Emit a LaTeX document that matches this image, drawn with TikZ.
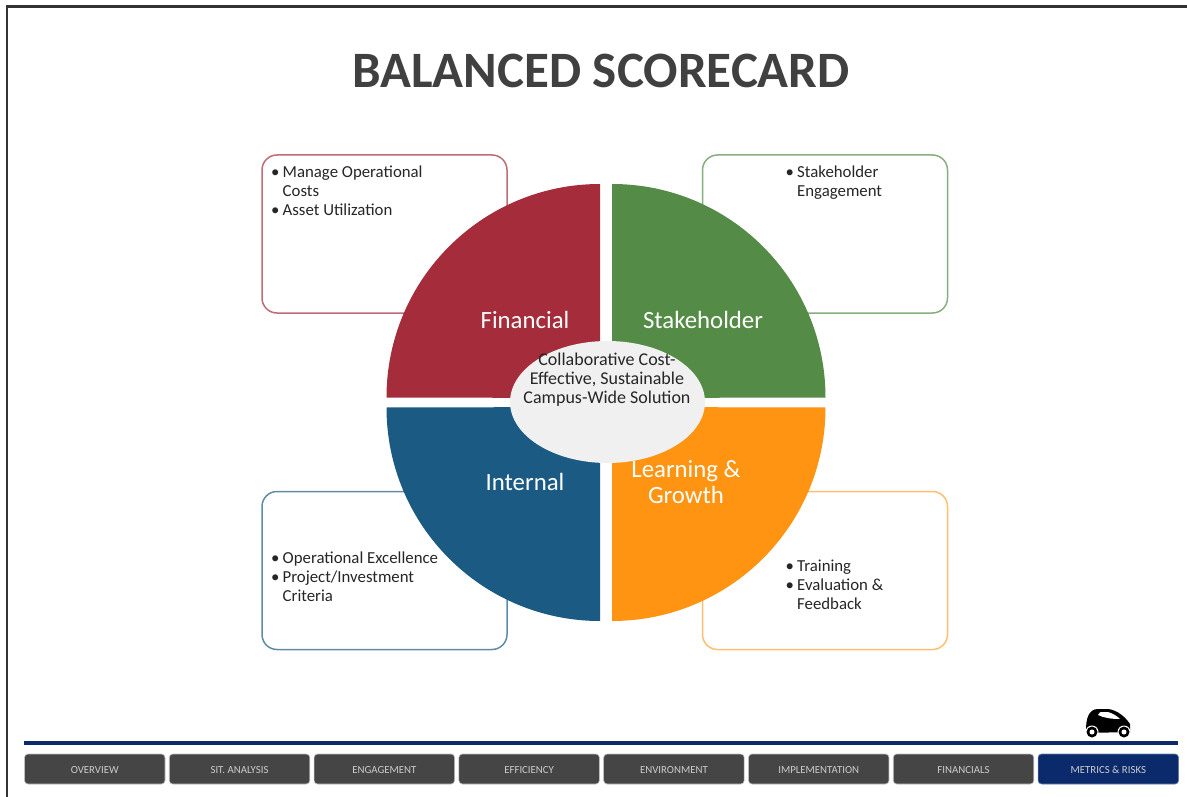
\documentclass[tikz,border=0pt]{standalone}
\usepackage{fontspec}
\setmainfont{Carlito}
\usepackage{xcolor}
\usetikzlibrary{matrix,positioning}
\definecolor{finred}{HTML}{A52C3A}
\definecolor{stagreen}{HTML}{548B46}
\definecolor{intblue}{HTML}{1B5A82}
\definecolor{lrnorange}{HTML}{FF9412}
\definecolor{navgrey}{HTML}{454545}
\definecolor{navblue}{HTML}{0A2A6B}
\newcommand{\itm}[1]{\makebox[11.5pt][l]{\textbullet}#1}
\newcommand{\cnt}{\hspace*{11.5pt}}
\newcommand{\ampchar}{\char38\relax}
\begin{document}
\begin{tikzpicture}[
x=1pt,y=-1pt,
card/.style={
  draw,
  line width=1.5pt,
  fill=white,
  rounded corners=15pt
  },
notes/.style={
  anchor=north west,
  align=left,
  inner sep=0pt,
  font=\fontsize{16.8}{18.7}\selectfont,
  text=black!85
  },
quadname/.style={
  text=white,
  align=center,
  inner sep=0pt,
  font=\fontsize{24.8}{26}\selectfont
  },
nav/.style={
  matrix of nodes,
  ampersand replacement=\&,
  nodes={
    draw=black!25,
    line width=0.6pt,
    fill=navgrey,
    text=white!80!black,
    rounded corners=3.5pt,
    minimum width=140.5pt,
    minimum height=30pt,
    inner sep=0pt,
    text height=9pt,
    text depth=0pt,
    font=\fontsize{10.8}{12}\selectfont
    },
  column sep=3.7pt,
  inner sep=0pt
  },
navon/.style={
  fill=navblue,
  draw=navblue!60
  }
]
\useasboundingbox (0,0) rectangle (1187,797);
% frame
\draw[line width=2.4pt,black!80] (7,797) -- (7,6.5) -- (1187,6.5);
\node[inner sep=0pt,text=black!75,font=\fontsize{51}{58}\bfseries\selectfont] (title) at (601,70.5) {BALANCED SCORECARD};
% note cards
\node[card,draw=finred!70,minimum width=245pt,minimum height=158pt] (fincard) at (384.5,234) {};
\node[card,draw=stagreen!70,minimum width=245pt,minimum height=158pt] (stacard) at (825,234) {};
\node[card,draw=intblue!70,minimum width=245pt,minimum height=158pt] (intcard) at (384.5,570.5) {};
\node[card,draw=lrnorange!60,minimum width=245pt,minimum height=158pt] (lrncard) at (825,570.5) {};
\node[notes] (finnotes) at (271,166) {\itm{Manage Operational}\\\cnt Costs\\\itm{Asset Utilization}};
\node[notes] (stanotes) at (785.5,166) {\itm{Stakeholder}\\\cnt Engagement};
\node[notes] (intnotes) at (271,552) {\itm{Operational Excellence}\\\itm{Project/Investment}\\\cnt Criteria};
\node[notes] (lrnnotes) at (785.5,560) {\itm{Training}\\\itm{Evaluation \&}\\\cnt Feedback};
% quarters
\fill[finred] (600,398) -- (600,184) arc[start angle=-90,end angle=-180,radius=213.5] -- cycle;
\fill[stagreen] (612,398) -- (612,184) arc[start angle=-90,end angle=0,radius=213.5] -- cycle;
\fill[intblue] (600,407) -- (600,621) arc[start angle=90,end angle=180,radius=213.5] -- cycle;
\fill[lrnorange] (612,407) -- (612,621) arc[start angle=90,end angle=0,radius=213.5] -- cycle;
\node[quadname] (financial) at (525,320) {Financial};
\node[quadname] (stakeholder) at (703,320) {Stakeholder};
\node[quadname] (internal) at (525,482) {Internal};
% hub
\fill[black!6] (607.5,402) ellipse[x radius=97.5,y radius=61];
\node[quadname] (learning) at (686,482) {Learning \&\\Growth};
\node[inner sep=0pt,align=center,text=black!85,font=\fontsize{18}{19}\selectfont] (hub) at (607,379.5) {Collaborative Cost-\\Effective, Sustainable\\Campus-Wide Solution};
% navigation
\draw[navblue,line width=3.5pt] (24,743) -- (1178,743);
\matrix[nav,anchor=west] (mat) at (24,769)
{
OVERVIEW \& SIT. ANALYSIS \& ENGAGEMENT \& EFFICIENCY \& ENVIRONMENT \& IMPLEMENTATION \& FINANCIALS \& |[navon]| METRICS \ampchar{} RISKS \\
};
% car
\fill[black] (1086,730) .. controls (1086,720) and (1088,709) .. (1098,709) -- (1108,709) .. controls (1118,710) and (1126,718) .. (1130,724) -- (1130,732) -- (1087,733) -- cycle;
\fill[white] (1098,715) .. controls (1099,712) and (1100,712) .. (1104,712) -- (1108,712) .. controls (1112,713) and (1117,716) .. (1120,719) .. controls (1112,719) and (1104,718) .. (1098,715) -- cycle;
\foreach \wx in {1092,1124}
{
  \fill[white] (\wx,732) circle[radius=6.5];
  \fill[black] (\wx,732) circle[radius=5.5];
  \fill[white] (\wx,732) circle[radius=2.5];
}
\end{tikzpicture}
\end{document}
